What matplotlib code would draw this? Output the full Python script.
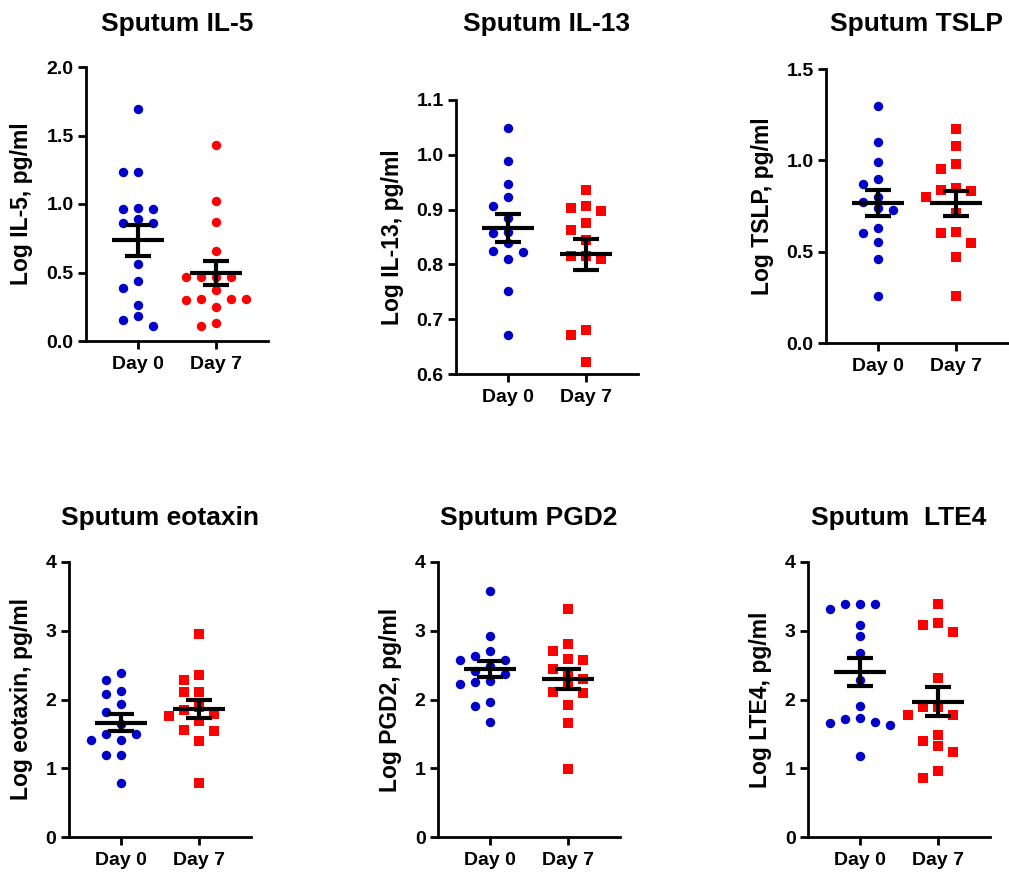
import matplotlib.pyplot as plt
import numpy as np
from matplotlib.ticker import FormatStrFormatter

plt.rcParams['font.family'] = ['Liberation Sans', 'DejaVu Sans']
plt.rcParams['font.weight'] = 'bold'

# 数据 (log 值, 从图上读取)
groups = ['Day 0', 'Day 7']

il5_d0 = [1.69, 1.23, 1.23, 0.97, 0.96, 0.96, 0.89, 0.86, 0.86, 0.56, 0.44, 0.39, 0.26, 0.18, 0.15, 0.11]
il5_d7 = [1.43, 1.02, 0.87, 0.66, 0.47, 0.47, 0.47, 0.47, 0.37, 0.31, 0.31, 0.30, 0.31, 0.25, 0.13, 0.11]

il13_d0 = [1.049, 0.988, 0.946, 0.923, 0.906, 0.884, 0.860, 0.857, 0.839, 0.824, 0.822, 0.810, 0.752, 0.672]
il13_d7 = [0.936, 0.907, 0.903, 0.897, 0.875, 0.863, 0.845, 0.816, 0.815, 0.809, 0.681, 0.672, 0.621]

tslp_d0 = [1.30, 1.10, 0.99, 0.90, 0.87, 0.80, 0.77, 0.74, 0.73, 0.63, 0.60, 0.555, 0.46, 0.26]
tslp_d7 = [1.17, 1.08, 0.98, 0.95, 0.85, 0.84, 0.83, 0.80, 0.71, 0.605, 0.60, 0.55, 0.47, 0.26]

eotaxin_d0 = [2.38, 2.28, 2.12, 2.08, 1.94, 1.82, 1.65, 1.50, 1.50, 1.41, 1.41, 1.19, 1.19, 0.78]
eotaxin_d7 = [2.95, 2.35, 2.29, 2.11, 2.11, 1.89, 1.85, 1.79, 1.76, 1.69, 1.56, 1.54, 1.39, 0.78]

pgd2_d0 = [3.58, 2.93, 2.71, 2.63, 2.58, 2.57, 2.49, 2.42, 2.37, 2.27, 2.25, 2.22, 1.97, 1.91, 1.68]
pgd2_d7 = [3.31, 2.81, 2.71, 2.59, 2.57, 2.45, 2.40, 2.30, 2.23, 2.11, 2.09, 1.92, 1.66, 0.99]

lte4_d0 = [3.39, 3.39, 3.39, 3.31, 3.08, 2.92, 2.68, 2.28, 1.91, 1.73, 1.71, 1.67, 1.66, 1.63, 1.18]
lte4_d7 = [3.39, 3.12, 3.09, 2.98, 2.31, 1.89, 1.89, 1.78, 1.78, 1.49, 1.39, 1.33, 1.24, 0.96, 0.86]

W, H = 1009, 877
AX_W = 182
XLIM = (-0.665, 1.665)
BLUE = '#0000c8'
RED = '#ff0000'

# 每个子图: 标题, y轴标签, 数据, y范围, 刻度, 格式, Day7 标记, (左, 下, 高) 像素, 标题基线
panels = [
    ('Sputum IL-5', 'Log IL-5, pg/ml', il5_d0, il5_d7, (0, 2), [0, 0.5, 1.0, 1.5, 2.0], '%.1f', 'o', (86, 341, 274), 31),
    ('Sputum IL-13', 'Log IL-13, pg/ml', il13_d0, il13_d7, (0.6, 1.1), [0.6, 0.7, 0.8, 0.9, 1.0, 1.1], '%.1f', 's', (456, 374, 274), 31),
    ('Sputum TSLP', 'Log TSLP, pg/ml', tslp_d0, tslp_d7, (0, 1.5), [0, 0.5, 1.0, 1.5], '%.1f', 's', (826, 343, 274), 31),
    ('Sputum eotaxin', 'Log eotaxin, pg/ml', eotaxin_d0, eotaxin_d7, (0, 4), [0, 1, 2, 3, 4], '%d', 's', (69, 837, 275), 525),
    ('Sputum PGD2', 'Log PGD2, pg/ml', pgd2_d0, pgd2_d7, (0, 4), [0, 1, 2, 3, 4], '%d', 's', (438, 837, 275), 525),
    ('Sputum  LTE4', 'Log LTE4, pg/ml', lte4_d0, lte4_d7, (0, 4), [0, 1, 2, 3, 4], '%d', 's', (808, 837, 275), 525),
]


def swarm(vals, h_px, ylim, step=15.0, dmin=10.5):
    # 简单的散点排布, 避免点重叠 (像素空间)
    scale = h_px / (ylim[1] - ylim[0])
    px_per_x = AX_W / (XLIM[1] - XLIM[0])
    placed = []
    offs = []
    cands = [0]
    for i in range(1, 8):
        cands += [-i, i]
    for v in vals:
        y = (v - ylim[0]) * scale
        x = 0
        for c in cands:
            x = c * step
            if all((x - px) ** 2 + (y - py) ** 2 >= dmin ** 2 for px, py in placed):
                break
        placed.append((x, y))
        offs.append(x / px_per_x)
    return np.array(offs)


fig = plt.figure(figsize=(W / 100, H / 100), dpi=100)

for title, ylabel, d0, d7, ylim, ticks, fmt, m7, (left, bottom, hgt), ty in panels:
    ax = fig.add_axes([left / W, 1 - bottom / H, AX_W / W, hgt / H])
    for i, (vals, color, mk) in enumerate([(d0, BLUE, 'o'), (d7, RED, m7)]):
        vals = np.array(vals)
        xs = i + swarm(vals, hgt, ylim)
        ax.scatter(xs, vals, s=46 if mk == 'o' else 44, marker=mk, color=color,
                   linewidths=0, clip_on=False, zorder=2)
        mean = vals.mean()
        sem = vals.std(ddof=1) / np.sqrt(len(vals))
        ax.hlines(mean, i - 0.33, i + 0.33, color='black', linewidth=3, zorder=3)
        ax.errorbar(i, mean, yerr=sem, fmt='none', ecolor='black', elinewidth=3,
                    capsize=9.4, capthick=3, zorder=3)
    ax.set_xlim(*XLIM)
    ax.set_ylim(*ylim)
    ax.set_yticks(ticks)
    ax.yaxis.set_major_formatter(FormatStrFormatter(fmt))
    ax.set_xticks([0, 1])
    ax.set_xticklabels(groups, fontsize=14, fontweight='bold')
    ax.tick_params(axis='y', labelsize=14, width=2, length=6, pad=3)
    ax.tick_params(axis='x', width=2, length=6, pad=5)
    for s in ['top', 'right']:
        ax.spines[s].set_visible(False)
    for s in ['left', 'bottom']:
        ax.spines[s].set_linewidth(2)
    cx = (left + AX_W / 2) / W
    fig.text(cx, 1 - ty / H, title, ha='center', va='baseline', fontsize=19, fontweight='bold')
    fig.text((left - 64 if bottom < 500 else left - 47) / W, 1 - (bottom - hgt / 2) / H, ylabel,
             rotation=90, ha='center', va='center', fontsize=16.5, fontweight='bold')

fig.savefig('out.png', dpi=100)
